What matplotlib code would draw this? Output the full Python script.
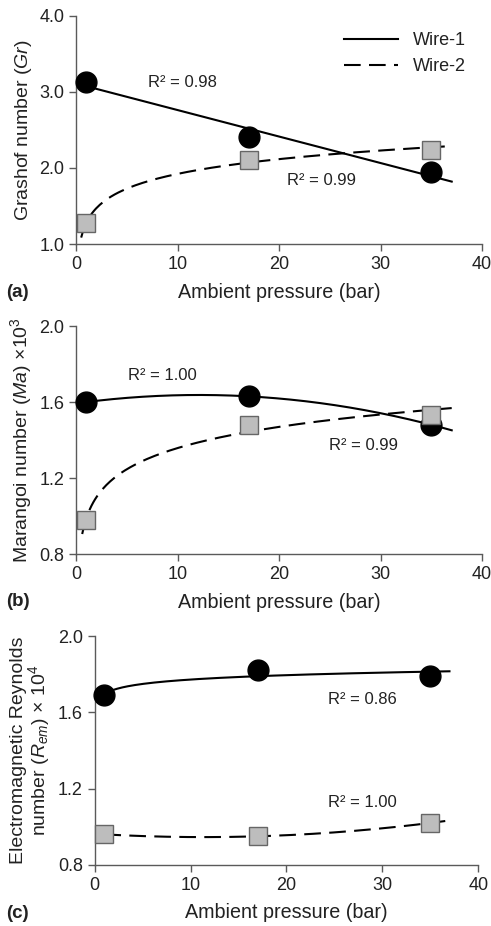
import numpy as np
import matplotlib.pyplot as plt

plt.rcParams['font.family'] = ['Liberation Sans', 'DejaVu Sans']
plt.rcParams['mathtext.fontset'] = 'custom'
plt.rcParams['mathtext.rm'] = 'Liberation Sans'
plt.rcParams['mathtext.it'] = 'Liberation Sans:italic'

# dados
pressao = [1, 17, 35]
gr_wire1 = [3.13, 2.41, 1.94]
gr_wire2 = [1.27, 2.11, 2.24]
ma_wire1 = [1.60, 1.63, 1.48]
ma_wire2 = [0.98, 1.48, 1.53]
rem_wire1 = [1.69, 1.82, 1.79]
rem_wire2 = [0.96, 0.95, 1.02]

cinza_eixo = '#5a5a5a'
cor_texto = '#222222'
x = np.array(pressao, dtype=float)


def ajuste(tipo, y, x0, x1):
    # linha de tendencia (linear, logaritmica ou polinomial de 2a ordem)
    xs = np.linspace(x0, x1, 200)
    if tipo == 'lin':
        c = np.polyfit(x, y, 1)
        return xs, np.polyval(c, xs)
    if tipo == 'log':
        c = np.polyfit(np.log(x), y, 1)
        return xs, np.polyval(c, np.log(xs))
    c = np.polyfit(x, y, 2)
    return xs, np.polyval(c, xs)


def painel(ax, y1, y2, t1, t2, x01, x02, ylim, yticks):
    xs, ys = ajuste(t1, y1, x01, 37)
    ax.plot(xs, ys, color='black', lw=1.5, label='Wire-1')
    xs, ys = ajuste(t2, y2, x02, 37)
    ax.plot(xs, ys, color='black', lw=1.5, dashes=(8, 4), label='Wire-2')
    ax.plot(x, y1, 'o', ms=15, color='black', zorder=3, clip_on=False)
    ax.plot(x, y2, 's', ms=12.5, mfc='#bdbdbd', mec='#666666', mew=1, zorder=3, clip_on=False)
    ax.set_xlim(0, 40)
    ax.set_ylim(*ylim)
    ax.set_xticks([0, 10, 20, 30, 40])
    ax.set_yticks(yticks)
    ax.set_yticklabels(['%.1f' % v for v in yticks])
    for s in ['top', 'right']:
        ax.spines[s].set_visible(False)
    for s in ['left', 'bottom']:
        ax.spines[s].set_color(cinza_eixo)
        ax.spines[s].set_linewidth(1)
    ax.tick_params(colors=cinza_eixo, labelcolor=cor_texto, labelsize=13,
                   length=5, width=1)
    ax.set_xlabel('Ambient pressure (bar)', fontsize=14.2, color=cor_texto, labelpad=7)


fig = plt.figure(figsize=(4.91, 9.26), dpi=100)

# (a)
ax = fig.add_axes([0.155, 0.7365, 0.827, 0.2465])
painel(ax, gr_wire1, gr_wire2, 'lin', 'log', 1, 0.5, (1.0, 4.0), [1.0, 2.0, 3.0, 4.0])
ax.set_ylabel(r'Grashof number ($\mathit{Gr}$)', fontsize=14, color=cor_texto)
ax.text(7.1, 3.12, 'R² = 0.98', fontsize=12, va='center', color=cor_texto)
ax.text(20.8, 1.84, 'R² = 0.99', fontsize=12, va='center', color=cor_texto)
ax.legend(loc='upper right', frameon=False, fontsize=13, handlelength=3.0,
          bbox_to_anchor=(1.0, 1.0), labelcolor=cor_texto)
fig.text(0.012, 0.684, '(a)', fontsize=13.5, fontweight='bold', color=cor_texto, va='center')

# (b)
ax = fig.add_axes([0.155, 0.4017, 0.827, 0.2462])
painel(ax, ma_wire1, ma_wire2, 'poly', 'log', 0.7, 0.6, (0.8, 2.0), [0.8, 1.2, 1.6, 2.0])
ax.set_ylabel(r'Marangoi number ($\mathit{Ma}$) ×10$^3$', fontsize=14, color=cor_texto)
ax.text(5.1, 1.74, 'R² = 1.00', fontsize=12, va='center', color=cor_texto)
ax.text(24.9, 1.37, 'R² = 0.99', fontsize=12, va='center', color=cor_texto)
fig.text(0.012, 0.35, '(b)', fontsize=13.5, fontweight='bold', color=cor_texto, va='center')

# (c)
ax = fig.add_axes([0.193, 0.066, 0.781, 0.247])
painel(ax, rem_wire1, rem_wire2, 'log', 'poly', 0.3, 1, (0.8, 2.0), [0.8, 1.2, 1.6, 2.0])
ax.set_ylabel('Electromagnetic Reynolds\n' + r'number ($\mathit{R}_{\mathit{em}}$) × 10$^4$',
              fontsize=14, color=cor_texto, linespacing=1.0)
ax.text(24.3, 1.67, 'R² = 0.86', fontsize=12, va='center', color=cor_texto)
ax.text(24.3, 1.125, 'R² = 1.00', fontsize=12, va='center', color=cor_texto)
fig.text(0.012, 0.014, '(c)', fontsize=13.5, fontweight='bold', color=cor_texto, va='center')

plt.savefig('out.png', dpi=100)
